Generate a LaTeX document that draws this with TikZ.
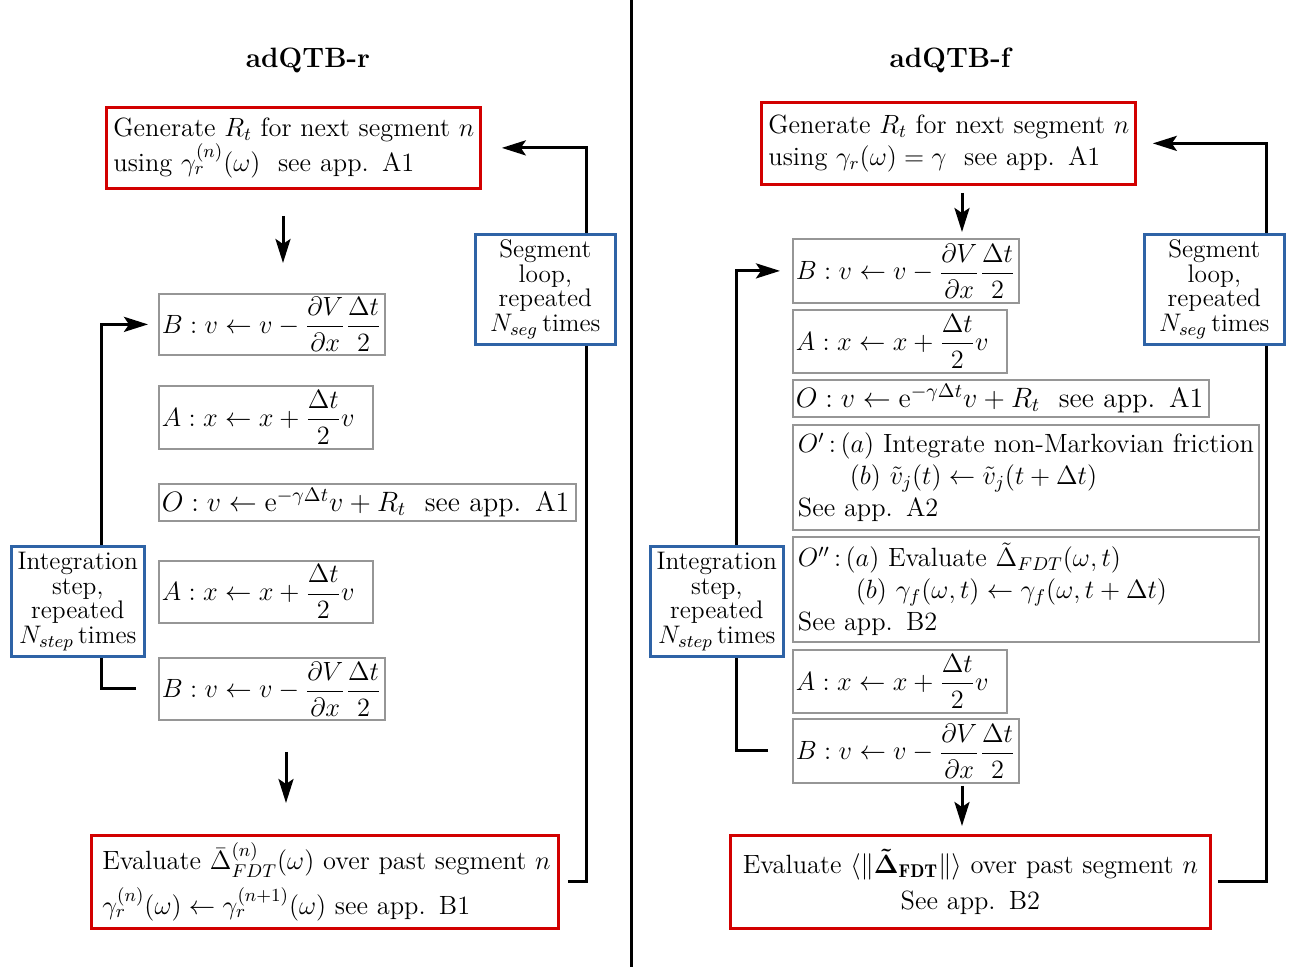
\RequirePackage{fix-cm}
\documentclass[tikz,border=0pt]{standalone}
\usepackage{amsmath}
\usepackage{fontspec}
\usetikzlibrary{arrows.meta,calc}
\definecolor{boxred}{RGB}{210,0,0}
\definecolor{boxblue}{RGB}{46,99,166}
\definecolor{boxgray}{RGB}{150,150,150}
\hbadness=10000 \hfuzz=20pt
\begin{document}
\begin{tikzpicture}[x=0.5pt,y=-0.5pt,
 every node/.style={font=\fontsize{13.2pt}{16pt}\selectfont},
 redbox/.style={draw=boxred, line width=1.4pt, inner xsep=3.5pt, inner ysep=2pt, anchor=north west, align=left},
 graybox/.style={draw=boxgray, line width=0.9pt, inner xsep=1.5pt, inner ysep=0pt, anchor=north west, align=left},
 obox/.style={graybox, font=\fontsize{14pt}{16pt}\selectfont},
 bluebox/.style={draw=boxblue, line width=1.3pt, fill=white, anchor=north west, align=center, inner sep=0pt, font=\fontsize{12.7pt}{12.3pt}\selectfont},
 titlenode/.style={font=\fontsize{14pt}{16pt}\selectfont\bfseries},
 arr/.style={line width=1.5pt, -{Stealth[length=12pt,width=7.5pt,inset=2.5pt]}},
 conn/.style={line width=1.5pt}
]
\useasboundingbox (0,0) rectangle (1291,967);
\draw[conn] (631,0) -- (631,967);

% ---------------- left: adQTB-r ----------------
\node[titlenode] (tl) at (308,60) {adQTB-r};
\node[redbox, text width=180pt, minimum height=40.5pt] (lG) at (105,106)
 {\mbox{Generate $R_t$ for next segment $n$}\\ \mbox{using $\gamma_r^{(n)}(\omega)$~ see app. A1}};
\node[graybox, text width=110pt, minimum height=30.5pt] (lB1) at (158,293)
 {$\displaystyle B: v\leftarrow v-\frac{\partial V}{\partial x}\frac{\Delta t}{2}$};
\node[graybox, text width=104pt, minimum height=31.5pt] (lA1) at (158,385)
 {$\displaystyle A: x\leftarrow x+\frac{\Delta t}{2}v$};
\node[obox, text width=205.5pt, minimum height=18.5pt] (lO) at (158,483)
 {\mbox{$O: v\leftarrow \mathrm{e}^{-\gamma\Delta t}v+R_t$~ see app. A1}};
\node[graybox, text width=104pt, minimum height=31pt] (lA2) at (158,560)
 {$\displaystyle A: x\leftarrow x+\frac{\Delta t}{2}v$};
\node[graybox, text width=110pt, minimum height=31pt] (lB2) at (158,657)
 {$\displaystyle B: v\leftarrow v-\frac{\partial V}{\partial x}\frac{\Delta t}{2}$};
\node[redbox, inner xsep=5.5pt, text width=222.5pt, minimum height=46.5pt] (lE) at (90,834)
 {\mbox{Evaluate $\bar{\Delta}^{(n)}_{FDT}(\omega)$ over past segment $n$}\\[4pt]
  \mbox{$\gamma_r^{(n)}(\omega)\leftarrow\gamma_r^{(n+1)}(\omega)$ see app. B1}};

\coordinate (lax) at (283,0);
\coordinate (lbx) at (286,0);
\coordinate (lix) at (101,0);
\coordinate (lsx) at (586,0);
\draw[arr, shorten <=13pt, shorten >=15pt] (lG.south -| lax) -- (lB1.north -| lax);
\draw[arr, shorten <=15.5pt, shorten >=15.5pt] (lB2.south -| lbx) -- (lE.north -| lbx);
\draw[arr, shorten <=11pt, shorten >=5pt] (lB2.west) -- (lB2.west -| lix) -- (lB1.west -| lix) -- (lB1.west);
\draw[arr, shorten <=4pt, shorten >=10pt] (lE.east) -- (lE.east -| lsx) -- (lG.east -| lsx) -- (lG.east);

\node[bluebox, minimum width=66.5pt, minimum height=55pt] (lI) at (10,545)
 {Integration\\ step,\\ repeated\\ $N_{step}$\,times};
\node[bluebox, minimum width=70pt, minimum height=55pt] (lS) at (474,233)
 {Segment\\ loop,\\ repeated\\ $N_{seg}$\,times};

% ---------------- right: adQTB-f ----------------
\node[titlenode] (tr) at (950,60) {adQTB-f};
\node[redbox, text width=180pt, minimum height=41pt] (rG) at (760,101)
 {\mbox{Generate $R_t$ for next segment $n$}\\ \mbox{using $\gamma_r(\omega)=\gamma$~ see app. A1}};
\node[graybox, text width=110pt, minimum height=32pt] (rB1) at (792,238)
 {$\displaystyle B: v\leftarrow v-\frac{\partial V}{\partial x}\frac{\Delta t}{2}$};
\node[graybox, text width=104pt, minimum height=31.5pt] (rA1) at (792,309)
 {$\displaystyle A: x\leftarrow x+\frac{\Delta t}{2}v$};
\node[obox, text width=205pt, minimum height=18.5pt] (rO) at (792,379)
 {\mbox{$O: v\leftarrow \mathrm{e}^{-\gamma\Delta t}v+R_t$~ see app. A1}};
\node[graybox, inner xsep=2.5pt, text width=228pt, minimum height=52.5pt] (rO1) at (792,424)
 {\mbox{$O'$\,:\,$(a)$ Integrate non-Markovian friction}\\
  \mbox{\hspace*{26pt}$(b)$ $\tilde{v}_j(t)\leftarrow\tilde{v}_j(t+\Delta t)$}\\
  \mbox{See app. A2}};
\node[graybox, inner xsep=2.5pt, text width=228pt, minimum height=52.5pt] (rO2) at (792,536)
 {\mbox{$O''$\,:\,$(a)$ Evaluate $\tilde{\Delta}_{FDT}(\omega,t)$}\\
  \mbox{\hspace*{29pt}$(b)$ $\gamma_f(\omega,t)\leftarrow\gamma_f(\omega,t+\Delta t)$}\\
  \mbox{See app. B2}};
\node[graybox, text width=104pt, minimum height=31.5pt] (rA2) at (792,649)
 {$\displaystyle A: x\leftarrow x+\frac{\Delta t}{2}v$};
\node[graybox, text width=110pt, minimum height=32pt] (rB2) at (792,718)
 {$\displaystyle B: v\leftarrow v-\frac{\partial V}{\partial x}\frac{\Delta t}{2}$};
\node[redbox, align=center, text width=233pt, minimum height=46.5pt] (rE) at (729,834)
 {Evaluate $\langle\|\boldsymbol{\tilde{\Delta}}_{\mathbf{FDT}}\|\rangle$ over past segment $n$\\[2pt]
  See app. B2};

\coordinate (rax) at (962,0);
\coordinate (rix) at (736,0);
\coordinate (rsx) at (1266,0);
\draw[arr, shorten <=3.5pt, shorten >=3pt] (rG.south -| rax) -- (rB1.north -| rax);
\draw[arr, shorten <=1pt, shorten >=4pt] (rB2.south -| rax) -- (rE.north -| rax);
\draw[arr, shorten <=12pt, shorten >=6pt] (rB2.west) -- (rB2.west -| rix) -- (rB1.west -| rix) -- (rB1.west);
\draw[arr, shorten <=3pt, shorten >=8pt] (rE.east) -- (rE.east -| rsx) -- (rG.east -| rsx) -- (rG.east);

\node[bluebox, minimum width=66.5pt, minimum height=55pt] (rI) at (649,545)
 {Integration\\ step,\\ repeated\\ $N_{step}$\,times};
\node[bluebox, minimum width=70pt, minimum height=55pt] (rS) at (1143,233)
 {Segment\\ loop,\\ repeated\\ $N_{seg}$\,times};
\end{tikzpicture}
\end{document}
